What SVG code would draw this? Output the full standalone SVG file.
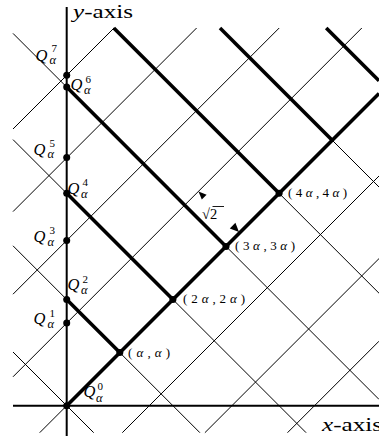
<svg xmlns="http://www.w3.org/2000/svg" width="379" height="436" viewBox="0 0 379 436">
<style>
.thin{stroke:#000;stroke-width:1;fill:none}
.thick{stroke:#000;stroke-width:3.6;fill:none}
.axis{stroke:#000;stroke-width:2;fill:none}
.dot{fill:#000}
.head{fill:#000}
text{font-family:"Liberation Serif","DejaVu Serif",serif;fill:#000}
.q{font-size:16.5px;font-style:italic}
.sup{font-size:11px}
.sub{font-size:12.5px;font-style:italic}
.coord{font-size:13px}
.ax{font-size:19px}
.it{font-style:italic}
</style>
<rect width="379" height="436" fill="#fff"/>
<g id="connectors">
<g id="grid-thin" class="thin">
<line x1="13" y1="352" x2="93.7" y2="432.7"/>
<line x1="13" y1="245.8" x2="199.9" y2="432.7"/>
<line x1="13" y1="139.6" x2="306.1" y2="432.7"/>
<line x1="13" y1="33.4" x2="379" y2="399.4"/>
<line x1="113.8" y1="28" x2="379" y2="293.2"/>
<line x1="220" y1="28" x2="379" y2="187"/>
<line x1="39.7" y1="432.7" x2="66.7" y2="405.7"/>
<line x1="13" y1="376.8" x2="361.8" y2="28"/>
<line x1="13" y1="294.2" x2="279.2" y2="28"/>
<line x1="13" y1="211.6" x2="196.6" y2="28"/>
<line x1="13" y1="129" x2="114" y2="28"/>
<line x1="122.3" y1="432.7" x2="379" y2="176"/>
<line x1="204.9" y1="432.7" x2="379" y2="258.6"/>
<line x1="287.5" y1="432.7" x2="379" y2="341.2"/>
</g>
<g id="grid-thick" class="thick">
<line x1="66.7" y1="405.7" x2="379" y2="93.4"/>
<line x1="66.7" y1="299.5" x2="119.8" y2="352.6"/>
<line x1="66.7" y1="193.3" x2="172.9" y2="299.5"/>
<line x1="66.7" y1="87.1" x2="226" y2="246.4"/>
<line x1="113.8" y1="28" x2="279.1" y2="193.3"/>
<line x1="220" y1="28" x2="332.2" y2="140.2"/>
<line x1="326.2" y1="28" x2="379" y2="80.8"/>
</g>
<g id="axes" class="axis">
<line x1="66.7" y1="7" x2="66.7" y2="436"/>
<line x1="13" y1="405.7" x2="379" y2="405.7"/>
</g>
<g id="dimension">
<polygon class="head" points="198.5,191.5 206.6,194.8 201.8,199.6"/>
<polygon class="head" points="239,232 235.4,222.8 229.8,228.4"/>
</g>
</g>
<g id="axis-labels">
<text class="ax" x="73" y="18" textLength="60" lengthAdjust="spacingAndGlyphs"><tspan class="it">y</tspan>-axis</text>
<text class="ax" x="322" y="431" textLength="60" lengthAdjust="spacingAndGlyphs"><tspan class="it">x</tspan>-axis</text>
</g>
<g id="sqrt2-label">
<text x="202" y="218.5" font-size="14.5">√2</text>
<line x1="212.5" y1="206.5" x2="224" y2="206.5" stroke="#000" stroke-width="0.9"/>
</g>
<g id="Q0">
<circle class="dot" cx="66.7" cy="405.7" r="3.5"/>
<text class="q" x="83.5" y="397">Q</text><text class="sup" x="97.5" y="390">0</text><text class="sub" x="96" y="401.5">α</text>
</g>
<g id="Q1">
<circle class="dot" cx="66.7" cy="323" r="3.5"/>
<text class="q" x="33.5" y="323.5">Q</text><text class="sup" x="49.5" y="316.5">1</text><text class="sub" x="47.5" y="328">α</text>
</g>
<g id="Q2">
<circle class="dot" cx="66.7" cy="299.5" r="3.5"/>
<text class="q" x="67.5" y="290">Q</text><text class="sup" x="82.5" y="282.5">2</text><text class="sub" x="81" y="294">α</text>
</g>
<g id="Q3">
<circle class="dot" cx="66.7" cy="240.4" r="3.5"/>
<text class="q" x="33.5" y="241.5">Q</text><text class="sup" x="49.5" y="233.5">3</text><text class="sub" x="47.5" y="245.5">α</text>
</g>
<g id="Q4">
<circle class="dot" cx="66.7" cy="193.3" r="3.5"/>
<text class="q" x="67.5" y="193.5">Q</text><text class="sup" x="82.5" y="185.5">4</text><text class="sub" x="81" y="197.5">α</text>
</g>
<g id="Q5">
<circle class="dot" cx="66.7" cy="157.6" r="3.5"/>
<text class="q" x="33.5" y="154.5">Q</text><text class="sup" x="49.5" y="146.5">5</text><text class="sub" x="47.5" y="158">α</text>
</g>
<g id="Q6">
<circle class="dot" cx="66.7" cy="87.1" r="3.5"/>
<text class="q" x="70.5" y="90">Q</text><text class="sup" x="85.5" y="82.5">6</text><text class="sub" x="84" y="94">α</text>
</g>
<g id="Q7">
<circle class="dot" cx="66.7" cy="75.3" r="3.5"/>
<text class="q" x="35.5" y="60.5">Q</text><text class="sup" x="51.5" y="52">7</text><text class="sub" x="49.5" y="64">α</text>
</g>
<g id="P1">
<circle class="dot" cx="119.8" cy="352.6" r="3.5"/>
<text class="coord" x="128" y="356.5" textLength="42" lengthAdjust="spacing">(<tspan class="it">α</tspan>,<tspan class="it">α</tspan>)</text>
</g>
<g id="P2">
<circle class="dot" cx="172.9" cy="299.5" r="3.5"/>
<text class="coord" x="183" y="302.5" textLength="62" lengthAdjust="spacing">(2<tspan class="it">α</tspan>,2<tspan class="it">α</tspan>)</text>
</g>
<g id="P3">
<circle class="dot" cx="226" cy="246.4" r="3.5"/>
<text class="coord" x="235" y="250" textLength="60" lengthAdjust="spacing">(3<tspan class="it">α</tspan>,3<tspan class="it">α</tspan>)</text>
</g>
<g id="P4">
<circle class="dot" cx="279.1" cy="193.3" r="3.5"/>
<text class="coord" x="288" y="196.5" textLength="59" lengthAdjust="spacing">(4<tspan class="it">α</tspan>,4<tspan class="it">α</tspan>)</text>
</g>
</svg>
